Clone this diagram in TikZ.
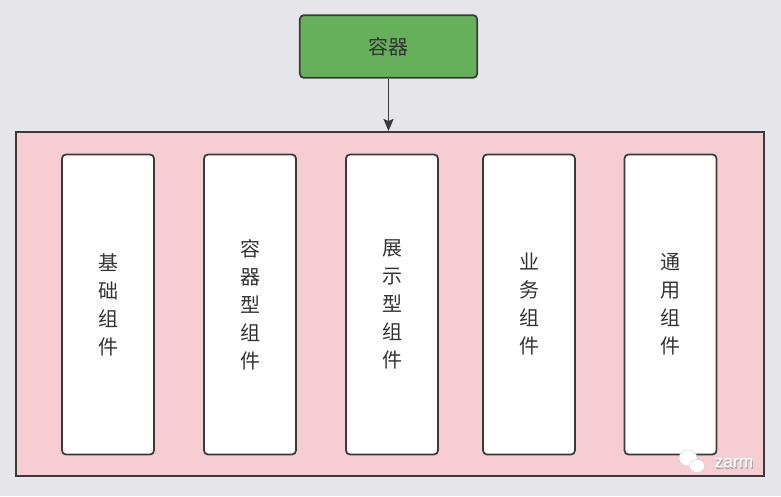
\documentclass[tikz,border=0pt]{standalone}
\usepackage{fontspec}
\setmainfont{Noto Sans CJK SC}
\newfontfamily\latinsans{Liberation Sans}
\usetikzlibrary{arrows.meta}
\definecolor{bgcol}{HTML}{E6E6EA}
\definecolor{pinkfill}{HTML}{F6CDD2}
\definecolor{greenfill}{HTML}{66AF5B}
\definecolor{edgecol}{HTML}{3A3A3A}
\definecolor{txtcol}{HTML}{333333}
\tikzset{
  colbox/.style={draw=edgecol, line width=1.3pt, fill=white, rounded corners=3pt,
    minimum width=69pt, minimum height=225pt, inner sep=0pt, text=txtcol,
    font=\fontsize{15}{21}\selectfont, align=center},
  topbox/.style={draw=edgecol, line width=1.3pt, fill=greenfill, rounded corners=3pt,
    minimum width=133pt, minimum height=47pt, inner sep=0pt, text=txtcol,
    font=\fontsize{15}{18}\selectfont},
  outerbox/.style={draw=edgecol, line width=1.4pt, fill=pinkfill},
  conn/.style={draw=edgecol, line width=1.4pt, -{Stealth[length=9pt,width=7.5pt,inset=1.5pt]}},
  wmtext/.style={font=\latinsans\fontsize{13}{13}\selectfont, anchor=west}
}
\begin{document}
\begin{tikzpicture}[x=0.75pt,y=-0.75pt]
\fill[bgcol] (0,0) rectangle (781,496);
\useasboundingbox (0,0) rectangle (781,496);
\node[outerbox, minimum width=561pt, minimum height=258pt, inner sep=0pt, anchor=north west] (outer) at (15,131) {};
\node[topbox] (top) at (388.5,46.5) {容器};
\draw[conn] (top.south) -- (top.south |- outer.north);
\node[colbox] (c1) at (108,304.5) {基\\础\\组\\件};
\node[colbox] (c2) at (250,304.5) {容\\器\\型\\组\\件};
\node[colbox] (c3) at (392,304.5) {展\\示\\型\\组\\件};
\node[colbox] (c4) at (529,304.5) {业\\务\\组\\件};
\node[colbox] (c5) at (670.5,304.5) {通\\用\\组\\件};
% watermark logo
\fill[white, draw=gray!40, line width=0.3pt] (688,458) ellipse (9 and 8);
\fill[white, draw=gray!40, line width=0.3pt] (697,466) ellipse (7.5 and 6.5);
\node[wmtext, text=gray!70] at (711,464.5) {zarm};
\node[wmtext, text=white] (wm) at (710,463) {zarm};
\end{tikzpicture}
\end{document}
